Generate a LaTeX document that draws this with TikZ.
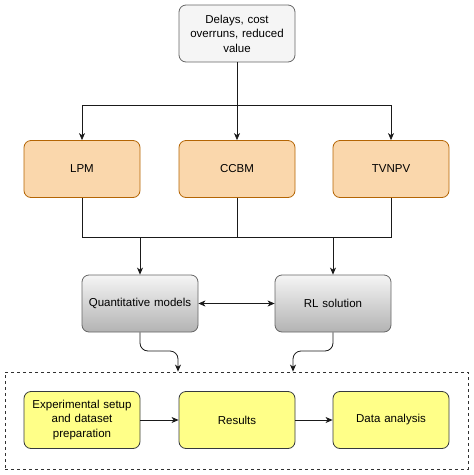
\documentclass[tikz,border=0pt]{standalone}
\usepackage{fontspec}
\setmainfont{Liberation Sans}
\usetikzlibrary{arrows.meta}
\definecolor{grayfill}{HTML}{F5F5F5}
\definecolor{graystroke}{HTML}{666666}
\definecolor{grayshade}{HTML}{B3B3B3}
\definecolor{orangefill}{HTML}{FAD7AC}
\definecolor{orangestroke}{HTML}{B46504}
\definecolor{yellowfill}{HTML}{FFFF88}
\definecolor{yellowstroke}{HTML}{36393D}
\definecolor{linecol}{HTML}{1A1A1A}
\tikzset{
  box/.style={rectangle, rounded corners=7pt, minimum width=116pt, minimum height=57pt,
    align=center, text width=110pt, font=\fontsize{11.5}{14.5}\selectfont, line width=0.8pt, inner sep=2pt},
  topbox/.style={box, draw=graystroke, fill=grayfill},
  orangebox/.style={box, draw=orangestroke, fill=orangefill},
  graybox/.style={box, draw=graystroke, top color=grayfill, bottom color=grayshade},
  yellowbox/.style={box, draw=yellowstroke, fill=yellowfill},
  conn/.style={draw=linecol, line width=0.8pt},
  arr/.style={conn, -{Stealth[length=7pt, width=6pt, inset=2pt]}},
  darr/.style={conn, {Stealth[length=7pt, width=6pt, inset=2pt]}-{Stealth[length=7pt, width=6pt, inset=2pt]}},
}
\begin{document}
\begin{tikzpicture}[x=1pt, y=-1pt]
\useasboundingbox (0,0) rectangle (474,475);
\node[draw=linecol!90, dashed, line width=0.8pt, minimum width=463pt, minimum height=97pt] (frame) at (236.5,420.5) {};
\node[topbox] (top) at (237,33.5) {Delays, cost\\overruns, reduced\\value};
\node[orangebox] (lpm) at (82,169) {LPM};
\node[orangebox] (ccbm) at (237,169) {CCBM};
\node[orangebox] (tvnpv) at (391,169) {TVNPV};
\node[graybox] (quant) at (140,303.5) {Quantitative models};
\node[graybox] (rl) at (333,303.5) {RL solution};
\node[yellowbox] (exp) at (82,420) {Experimental setup\\and dataset\\preparation};
\node[yellowbox] (res) at (237,420) {Results};
\node[yellowbox] (data) at (391,420) {Data analysis};
\coordinate (jt) at (237,105);
\coordinate (jb) at (237,237);
\coordinate (qm) at (178,351);
\coordinate (rm) at (293,351);
\draw[conn] (top) -- (jt);
\draw[arr] (jt) -| (lpm);
\draw[arr] (jt) -| (tvnpv);
\draw[arr] (jt) -- (ccbm);
\draw[conn] (ccbm) -- (jb);
\draw[conn] (lpm) |- (jb);
\draw[conn] (tvnpv) |- (jb);
\draw[arr] (quant |- jb) -- (quant);
\draw[arr] (rl |- jb) -- (rl);
\draw[darr] (quant) -- (rl);
\draw[arr, rounded corners=8pt] (quant) |- (qm) -- (qm |- frame.north);
\draw[arr, rounded corners=8pt] (rl) |- (rm) -- (rm |- frame.north);
\draw[arr] (exp) -- (res);
\draw[arr] (res) -- (data);
\end{tikzpicture}
\end{document}
